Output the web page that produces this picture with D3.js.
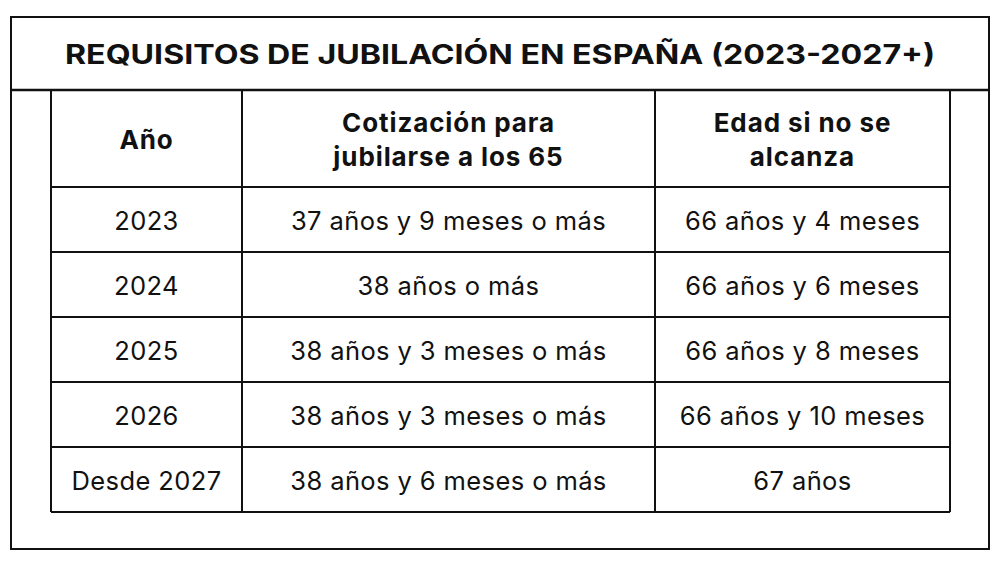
<!DOCTYPE html><html><head><meta charset="utf-8">
<script src="https://cdn.jsdelivr.net/npm/d3@7"></script>
<style>body{margin:0;background:#fff}</style></head><body>
<svg id="c" width="1000" height="567"></svg>
<script>
const title = "REQUISITOS DE JUBILACIÓN EN ESPAÑA (2023-2027+)";
const headers = [["Año"],["Cotización para","jubilarse a los 65"],["Edad si no se","alcanza"]];
const years = ["2023","2024","2025","2026","Desde 2027"];
const cotizacion = ["37 años y 9 meses o más","38 años o más","38 años y 3 meses o más","38 años y 3 meses o más","38 años y 6 meses o más"];
const edad = ["66 años y 4 meses","66 años y 6 meses","66 años y 8 meses","66 años y 10 meses","67 años"];

const svg = d3.select("#c");
const F = "Inter, 'Open Sans', sans-serif";
const S = "#111";
svg.append("rect").attr("x",11).attr("y",17).attr("width",978).attr("height",532).attr("fill","none").attr("stroke",S).attr("stroke-width",2);
svg.append("line").attr("x1",11).attr("x2",989).attr("y1",90).attr("y2",90).attr("stroke",S).attr("stroke-width",2.5);
svg.append("text").attr("x",500).attr("y",54).attr("text-anchor","middle").attr("dominant-baseline","central")
  .attr("font-family",F).attr("font-weight",700).attr("font-size",27).attr("fill",S)
  .attr("textLength",870).attr("lengthAdjust","spacingAndGlyphs").text(title);

const colX = d3.scaleOrdinal().domain([0,1,2,3]).range([51,242,655,950]);
const rowY = d3.scaleLinear().domain([0,5]).range([187,512]);
[0,1,2,3].forEach(i=>svg.append("line").attr("x1",colX(i)).attr("x2",colX(i)).attr("y1",90).attr("y2",512).attr("stroke",S).attr("stroke-width",2));
d3.range(6).forEach(i=>svg.append("line").attr("x1",51).attr("x2",950).attr("y1",rowY(i)).attr("y2",rowY(i)).attr("stroke",S).attr("stroke-width",2));
headers.forEach((h,c)=>{
  const cx=(colX(c)+colX(c+1))/2, cy=139;
  h.forEach((t,k)=>svg.append("text").attr("x",cx).attr("y",cy+(k-(h.length-1)/2)*34).attr("text-anchor","middle").attr("dominant-baseline","central")
    .attr("font-family",F).attr("font-weight",700).attr("font-size",26).attr("letter-spacing",0.9).attr("fill",S).text(t));
});
const rows = years.map((y,i)=>[y,cotizacion[i],edad[i]]);
rows.forEach((r,i)=>r.forEach((t,c)=>{
  svg.append("text").attr("x",(colX(c)+colX(c+1))/2).attr("y",(rowY(i)+rowY(i+1))/2+1).attr("text-anchor","middle").attr("dominant-baseline","central")
    .attr("font-family",F).attr("font-size",25.5).attr("letter-spacing",0.4).attr("fill",S).text(t);
}));
</script></body></html>
